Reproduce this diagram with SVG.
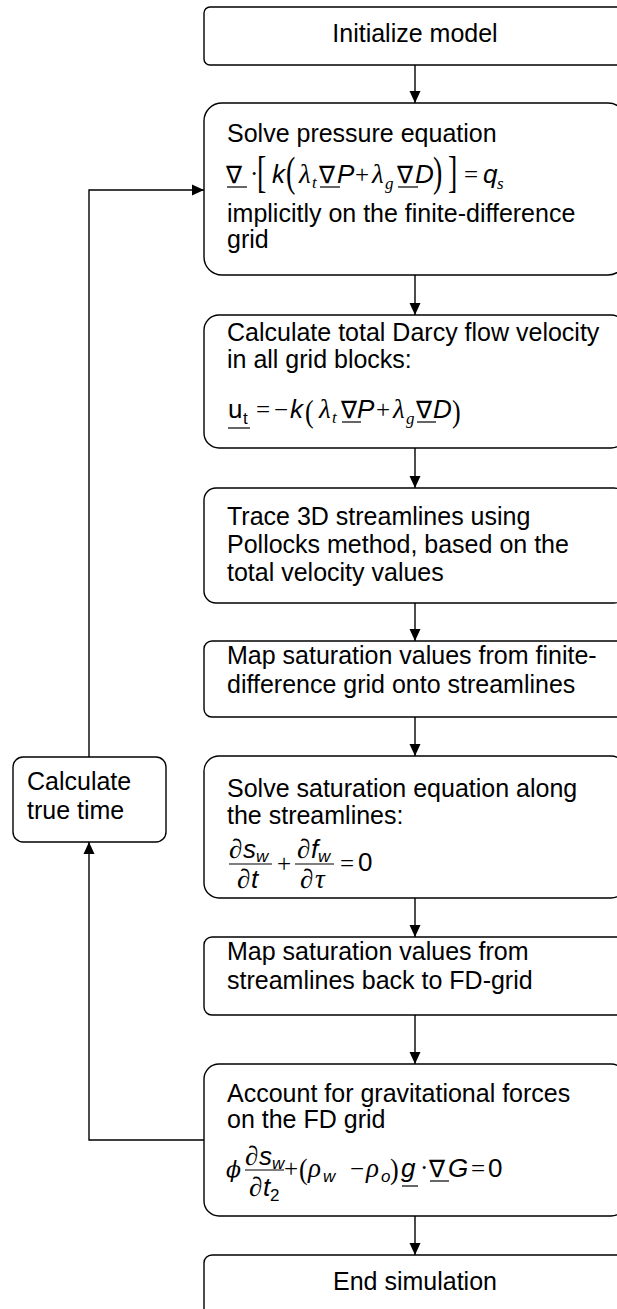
<svg xmlns="http://www.w3.org/2000/svg" width="617" height="1309" viewBox="0 0 617 1309">
  <style>
    .box { fill: #ffffff; stroke: #000000; stroke-width: 1.4; }
    .edge { fill: none; stroke: #000000; stroke-width: 1.4; }
    .t { font-family: "Liberation Sans", Arial, sans-serif; font-size: 25px; fill: #000000; }
    .c { text-anchor: middle; }
    .v { font-family: "Liberation Sans", Arial, sans-serif; font-style: italic; font-size: 26px; }
    .u { font-family: "Liberation Sans", Arial, sans-serif; font-size: 26px; }
    .g { font-family: "Liberation Serif", "Times New Roman", serif; font-style: italic; font-size: 27px; }
    .o { font-family: "Liberation Serif", "Times New Roman", serif; font-size: 25px; }
    .n { font-family: "DejaVu Sans", sans-serif; font-size: 24px; }
    .s { font-family: "Liberation Serif", "Times New Roman", serif; font-style: italic; font-size: 17px; }
    .sv { font-family: "Liberation Sans", Arial, sans-serif; font-style: italic; font-size: 17px; }
    .su { font-family: "Liberation Sans", Arial, sans-serif; font-size: 17px; }
    .d { font-family: "Liberation Serif", "Times New Roman", serif; }
    .bar { stroke: #000000; stroke-width: 1.2; }
  </style>
  <defs>
    <marker id="arrow" viewBox="0 0 12 12" refX="12" refY="6" markerWidth="12" markerHeight="12" markerUnits="userSpaceOnUse" orient="auto">
      <path d="M0,0.5 L12,6 L0,11.5 Z" fill="#000000"/>
    </marker>
  </defs>

  <!-- connectors -->
  <g id="connectors">
    <line class="edge" x1="415" y1="65" x2="415" y2="103" marker-end="url(#arrow)"/>
    <line class="edge" x1="415" y1="275" x2="415" y2="315" marker-end="url(#arrow)"/>
    <line class="edge" x1="415" y1="448" x2="415" y2="488" marker-end="url(#arrow)"/>
    <line class="edge" x1="415" y1="603" x2="415" y2="641" marker-end="url(#arrow)"/>
    <line class="edge" x1="415" y1="717" x2="415" y2="756" marker-end="url(#arrow)"/>
    <line class="edge" x1="415" y1="898" x2="415" y2="937" marker-end="url(#arrow)"/>
    <line class="edge" x1="415" y1="1015" x2="415" y2="1064" marker-end="url(#arrow)"/>
    <line class="edge" x1="415" y1="1216" x2="415" y2="1255" marker-end="url(#arrow)"/>
    <!-- loop back: gravity step -> true time -> pressure solve -->
    <polyline class="edge" points="204,1140 89,1140 89,842" marker-end="url(#arrow)"/>
    <polyline class="edge" points="89,757 89,190 204,190" marker-end="url(#arrow)"/>
  </g>

  <g id="init">
    <rect class="box" x="204" y="7" width="422" height="58" rx="6"/>
    <text class="t c" x="415" y="42">Initialize model</text>
  </g>

  <g id="pressure">
    <rect class="box" x="204" y="103" width="422" height="172" rx="18"/>
    <text class="t" x="227" y="142">Solve pressure equation</text>
    <text class="n" x="226" y="183">∇</text>
    <line class="bar" x1="227" y1="187" x2="247" y2="187"/>
    <text class="o" x="250" y="182">·</text>
    <text class="d" font-size="28" transform="translate(257,187) scale(1,1.55)">[</text>
    <text class="v" x="272" y="183">k</text>
    <text class="d" font-size="28" transform="translate(286,186) scale(1,1.5)">(</text>
    <text class="g" x="299" y="183">λ</text>
    <text class="s" x="312" y="188">t</text>
    <text class="n" x="319" y="183">∇</text>
    <line class="bar" x1="320" y1="187" x2="340" y2="187"/>
    <text class="v" x="337" y="183">P</text>
    <text class="o" x="355" y="183">+</text>
    <text class="g" x="372" y="183">λ</text>
    <text class="s" x="385" y="189">g</text>
    <text class="n" x="397" y="183">∇</text>
    <line class="bar" x1="398" y1="187" x2="418" y2="187"/>
    <text class="v" x="415" y="183">D</text>
    <text class="d" font-size="28" transform="translate(433,186) scale(1,1.5)">)</text>
    <text class="d" font-size="28" transform="translate(448,187) scale(1,1.55)">]</text>
    <text class="o" x="464" y="183">=</text>
    <text class="v" x="483" y="183">q</text>
    <text class="s" x="497" y="189">s</text>
    <text class="t" x="227" y="222">implicitly on the finite-difference</text>
    <text class="t" x="227" y="248">grid</text>
  </g>

  <g id="velocity">
    <rect class="box" x="204" y="315" width="422" height="133" rx="15"/>
    <text class="t" x="227" y="341">Calculate total Darcy flow velocity</text>
    <text class="t" x="227" y="368">in all grid blocks:</text>
    <text class="u" x="228" y="418">u</text>
    <text class="su" x="243" y="424">t</text>
    <line class="bar" x1="228" y1="428" x2="250" y2="428"/>
    <text class="o" x="256" y="418">=</text>
    <text class="o" x="274" y="418">−</text>
    <text class="v" x="290" y="418">k</text>
    <text class="d" font-size="26" transform="translate(305,422) scale(1,1.2)">(</text>
    <text class="g" x="319" y="418">λ</text>
    <text class="s" x="332" y="423">t</text>
    <text class="n" x="341" y="418">∇</text>
    <line class="bar" x1="342" y1="422" x2="361" y2="422"/>
    <text class="v" x="357" y="418">P</text>
    <text class="o" x="376" y="418">+</text>
    <text class="g" x="393" y="418">λ</text>
    <text class="s" x="406" y="424">g</text>
    <text class="n" x="416" y="418">∇</text>
    <line class="bar" x1="417" y1="422" x2="436" y2="422"/>
    <text class="v" x="433" y="418">D</text>
    <text class="d" font-size="26" transform="translate(452,422) scale(1,1.2)">)</text>
  </g>

  <g id="trace">
    <rect class="box" x="204" y="488" width="422" height="115" rx="12"/>
    <text class="t" x="227" y="525">Trace 3D streamlines using</text>
    <text class="t" x="227" y="553">Pollocks method, based on the</text>
    <text class="t" x="227" y="581">total velocity values</text>
  </g>

  <g id="map-to-streamlines">
    <rect class="box" x="204" y="641" width="422" height="76" rx="8"/>
    <text class="t" x="227" y="664">Map saturation values from finite-</text>
    <text class="t" x="227" y="693">difference grid onto streamlines</text>
  </g>

  <g id="saturation">
    <rect class="box" x="204" y="756" width="422" height="142" rx="15"/>
    <text class="t" x="227" y="797">Solve saturation equation along</text>
    <text class="t" x="227" y="824">the streamlines:</text>
    <text class="g" x="229" y="858">∂</text>
    <text class="v" x="243" y="858">s</text>
    <text class="sv" x="256" y="862">w</text>
    <line class="bar" x1="229" y1="864" x2="272" y2="864"/>
    <text class="g" x="237" y="888">∂</text>
    <text class="v" x="251" y="888">t</text>
    <text class="o" x="277" y="872">+</text>
    <text class="g" x="297" y="858">∂</text>
    <text class="v" x="311" y="858">f</text>
    <text class="sv" x="318" y="862">w</text>
    <line class="bar" x1="295" y1="864" x2="334" y2="864"/>
    <text class="g" x="300" y="888">∂</text>
    <text class="g" x="315" y="888">τ</text>
    <text class="o" x="340" y="872">=</text>
    <text class="u" x="358" y="871">0</text>
  </g>

  <g id="map-to-grid">
    <rect class="box" x="204" y="937" width="422" height="78" rx="8"/>
    <text class="t" x="227" y="960">Map saturation values from</text>
    <text class="t" x="227" y="989">streamlines back to FD-grid</text>
  </g>

  <g id="gravity">
    <rect class="box" x="204" y="1064" width="422" height="152" rx="15"/>
    <text class="t" x="227" y="1102">Account for gravitational forces</text>
    <text class="t" x="227" y="1128">on the FD grid</text>
    <text x="226" y="1177" font-family="DejaVu Serif, serif" font-style="italic" font-size="22">ϕ</text>
    <text class="g" x="245" y="1165">∂</text>
    <text class="v" x="259" y="1165">s</text>
    <text class="sv" x="272" y="1169">w</text>
    <line class="bar" x1="245" y1="1170" x2="284" y2="1170"/>
    <text class="g" x="249" y="1196">∂</text>
    <text class="v" x="263" y="1196">t</text>
    <text class="su" x="270" y="1201">2</text>
    <text class="o" x="284" y="1177" font-size="20">+</text>
    <text class="d" font-size="26" transform="translate(299,1179) scale(1,1.1)">(</text>
    <text class="g" x="308" y="1177">ρ</text>
    <text class="sv" x="323" y="1182">w</text>
    <text class="o" x="350" y="1177">−</text>
    <text class="g" x="366" y="1177">ρ</text>
    <text class="sv" x="381" y="1182">o</text>
    <text class="d" font-size="26" transform="translate(390,1179) scale(1,1.1)">)</text>
    <text class="v" x="401" y="1177">g</text>
    <line class="bar" x1="402" y1="1186" x2="418" y2="1186"/>
    <text class="o" x="420" y="1176">·</text>
    <text class="n" x="429" y="1177">∇</text>
    <line class="bar" x1="430" y1="1181" x2="449" y2="1181"/>
    <text class="v" x="448" y="1177">G</text>
    <text class="o" x="471" y="1177">=</text>
    <text class="u" x="488" y="1177">0</text>
  </g>

  <g id="end">
    <rect class="box" x="204" y="1255" width="422" height="70" rx="8"/>
    <text class="t c" x="415" y="1290">End simulation</text>
  </g>

  <g id="true-time">
    <rect class="box" x="13" y="757" width="153" height="85" rx="10"/>
    <text class="t" x="27" y="790">Calculate</text>
    <text class="t" x="27" y="819">true time</text>
  </g>
</svg>
